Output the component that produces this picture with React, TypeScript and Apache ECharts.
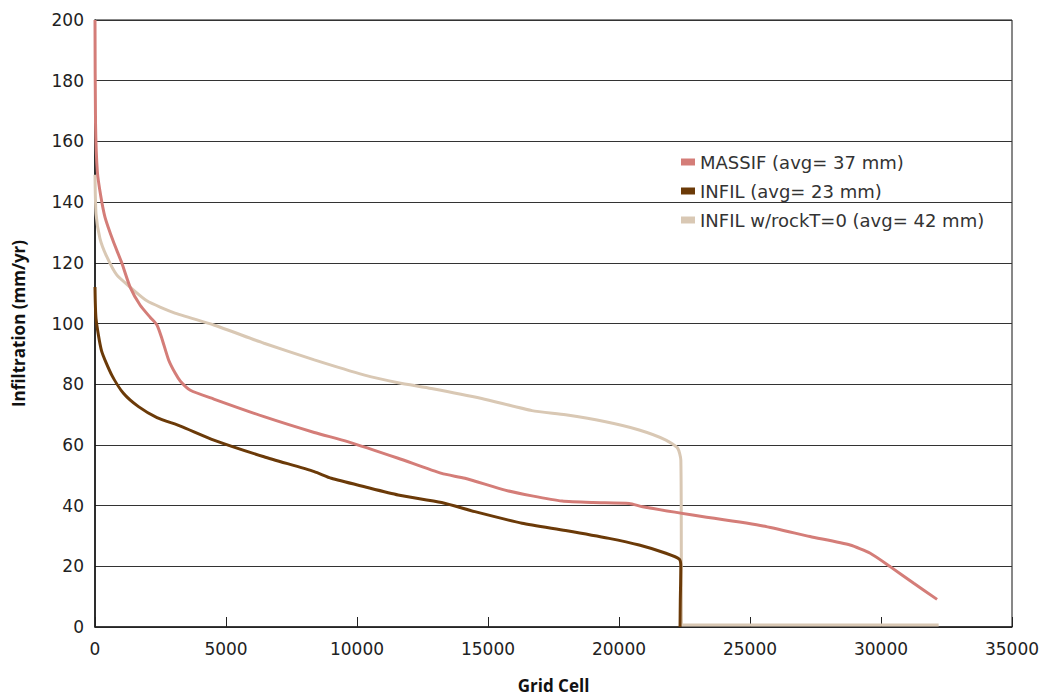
import React, { useEffect, useRef } from "react";
import * as echarts from "echarts";

const xTicks = [0, 5000, 10000, 15000, 20000, 25000, 30000, 35000];
const yTicks = [0, 20, 40, 60, 80, 100, 120, 140, 160, 180, 200];

const massifX = [0, 20, 90, 220, 383, 700, 1020, 1340, 1725, 2110, 2365, 2555, 2810, 3070, 3260, 3640, 4535, 6450, 8370, 9640, 11570, 13230, 14120, 15650, 16680, 17830, 19000, 20390, 20900, 22810, 25500, 27290, 28820, 29590, 30350, 31250, 32140];
const massifY = [200, 166, 150, 142, 135, 127, 120, 112, 106, 102, 99.5, 95, 88, 83.5, 81, 78, 75.1, 69.3, 64.1, 61.1, 55.6, 50.6, 49, 45.1, 43.2, 41.5, 41, 40.7, 39.6, 36.9, 33.3, 29.8, 27, 24.3, 19.9, 14.4, 9.1];

const infilX = [0, 40, 250, 640, 1085, 1660, 2365, 3260, 4535, 6450, 8370, 9020, 10290, 11570, 13230, 14500, 16300, 17960, 19620, 20770, 21790, 22300, 22360, 22340, 22330];
const infilY = [112, 101.5, 91, 83, 77, 72.6, 69, 66.2, 61.6, 56.1, 51.2, 49, 46.2, 43.5, 41, 38, 34.2, 31.8, 29.2, 27, 24.3, 22.4, 20, 9, 0];

const rockX = [0, 40, 190, 450, 830, 1340, 1980, 3000, 4535, 6450, 8370, 10290, 11570, 12840, 14760, 16680, 17960, 19490, 20770, 21790, 22240, 22360, 22380, 22390, 25000, 30000, 32200];
const rockY = [149, 136, 128, 122, 116, 112, 107.5, 103.6, 99.5, 93.5, 88, 83, 80.5, 78.6, 75.3, 71.3, 69.9, 67.6, 64.9, 61.6, 58.9, 55, 20, 0.7, 0.7, 0.7, 0.7];

const names = ["MASSIF (avg= 37 mm)", "INFIL (avg= 23 mm)", "INFIL w/rockT=0 (avg= 42 mm)"];
const colors = ["#d47d78", "#6b3a08", "#d9c8b4"];

const zip = (xs: number[], ys: number[]) => xs.map((x, i) => [x, ys[i]]);

export default function App() {
  const ref = useRef<HTMLDivElement>(null);
  useEffect(() => {
    if (!ref.current) return;
    const chart = echarts.init(ref.current, null, { renderer: "svg" });
    const tickFont = "'DejaVu Sans', sans-serif";
    const nameFont = "'Open Sans', sans-serif";
    const mkSeries = (name: string, data: number[][], color: string, z: number) => ({
      name,
      type: "line",
      data,
      symbol: "none",
      smooth: 0.2,
      z,
      lineStyle: { color, width: 3 },
      itemStyle: { color },
    });
    chart.setOption({
      animation: false,
      textStyle: { fontFamily: tickFont },
      grid: {
        left: 95,
        right: 35,
        top: 20,
        bottom: 73,
        show: true,
        borderColor: "#111",
        borderWidth: 1,
        containLabel: false,
        outerBoundsMode: "none",
      },
      legend: {
        orient: "vertical",
        left: 676,
        top: 148,
        itemWidth: 14,
        itemHeight: 7,
        itemGap: 11,
        icon: "rect",
        textStyle: { fontSize: 18, color: "#333", fontFamily: tickFont },
        data: names,
      },
      xAxis: {
        type: "value",
        min: xTicks[0],
        max: xTicks[xTicks.length - 1],
        interval: 5000,
        name: "Grid Cell",
        nameLocation: "middle",
        nameGap: 50,
        nameTextStyle: { fontSize: 17, fontWeight: "bold", color: "#111", fontFamily: nameFont },
        axisLine: { show: true, lineStyle: { color: "#222", width: 1.5 } },
        axisTick: { show: true, inside: true, length: 10, lineStyle: { color: "#222" } },
        axisLabel: { fontSize: 17, color: "#222", margin: 13, formatter: (v: number) => String(v) },
        splitLine: { show: false },
      },
      yAxis: {
        type: "value",
        min: yTicks[0],
        max: yTicks[yTicks.length - 1],
        interval: 20,
        name: "Infiltration (mm/yr)",
        nameLocation: "middle",
        nameGap: 68,
        nameRotate: 90,
        nameTextStyle: { fontSize: 17, fontWeight: "bold", color: "#111", fontFamily: nameFont },
        axisLine: { show: true, lineStyle: { color: "#111", width: 1.5 } },
        axisTick: { show: false },
        axisLabel: { fontSize: 17, color: "#222", margin: 11, formatter: (v: number) => String(v) },
        splitLine: { show: true, lineStyle: { color: "#333", width: 1 } },
      },
      series: [
        mkSeries(names[2], zip(rockX, rockY), colors[2], 2),
        mkSeries(names[0], zip(massifX, massifY), colors[0], 3),
        mkSeries(names[1], zip(infilX, infilY), colors[1], 4),
      ],
    });
    return () => chart.dispose();
  }, []);
  return <div ref={ref} style={{ width: 1047, height: 700, position: "absolute", left: 0, top: 0 }} />;
}
